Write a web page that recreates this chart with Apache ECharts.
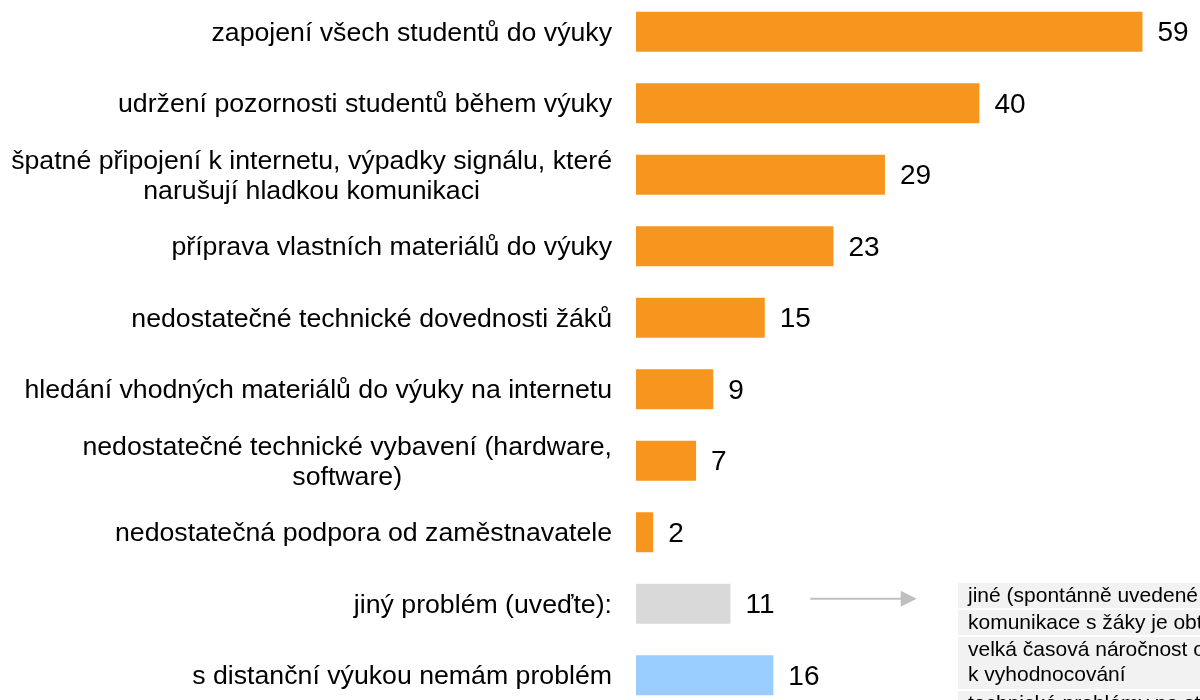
<!DOCTYPE html>
<html>
<head>
<meta charset="utf-8">
<script src="https://cdn.jsdelivr.net/npm/echarts@6/dist/echarts.min.js"></script>
<style>
html,body{margin:0;padding:0;background:#fff;}
#c{width:1200px;height:700px;}
</style>
</head>
<body>
<div id="c"></div>
<script>
const categories = [
  'zapojení všech studentů do výuky',
  'udržení pozornosti studentů během výuky',
  'špatné připojení k internetu, výpadky signálu, které\nnarušují hladkou komunikaci',
  'příprava vlastních materiálů do výuky',
  'nedostatečné technické dovednosti žáků',
  'hledání vhodných materiálů do výuky na internetu',
  'nedostatečné technické vybavení (hardware,\nsoftware)',
  'nedostatečná podpora od zaměstnavatele',
  'jiný problém (uveďte):',
  's distanční výukou nemám problém'
];
const values = [59, 40, 29, 23, 15, 9, 7, 2, 11, 16];
const barColors = ['#F7961E','#F7961E','#F7961E','#F7961E','#F7961E','#F7961E','#F7961E','#F7961E','#D9D9D9','#99CCFF'];
const arrowRange = [20.3, 32.7];
const noteRows = [
  'jiné (spontánně uvedené odpovědi)',
  'komunikace s žáky je obtížná',
  'velká časová náročnost oprav prací\nk vyhodnocování',
  'technické problémy na straně žáků'
];

const FONT = '"Liberation Sans", Arial, sans-serif';
const chart = echarts.init(document.getElementById('c'), null, {renderer:'canvas'});

const rowHeights = [25, 25, 52, 30];
let yy = 583;
const noteGraphics = [];
noteRows.forEach((t, i) => {
  noteGraphics.push({
    type: 'rect', left: 958, top: yy,
    shape: {x:0, y:0, width: 260, height: rowHeights[i]},
    style: {fill: '#F2F2F2'}, silent: true
  });
  noteGraphics.push({
    type: 'text', x: 968, y: yy + 1,
    style: {text: t, font: '21px ' + FONT, fill: '#000', lineHeight: 25, textVerticalAlign: 'top'},
    silent: true
  });
  yy += rowHeights[i] + 2;
});

chart.setOption({
  animation: false,
  grid: {left: 636, right: 6, top: -4, height: 715, containLabel: false, outerBoundsMode: 'none'},
  xAxis: {
    type: 'value', min: 0, max: 65, show: false
  },
  yAxis: {
    type: 'category', data: categories, inverse: true,
    axisLine: {show: false}, axisTick: {show: false}, splitLine: {show: false},
    axisLabel: {
      margin: 24, color: '#000', fontSize: 26.7, fontFamily: FONT, align: 'right',
      lineHeight: 30, padding: [3, 0, 0, 0],
      formatter: function (v) {
        return v.split('\n').map(l => '{c|' + l + '}').join('\n');
      },
      rich: {c: {align: 'center', fontSize: 26.7, fontFamily: FONT, color: '#000', lineHeight: 30}}
    }
  },
  series: [{
    type: 'bar',
    data: values.map((v, i) => ({value: v, itemStyle: {color: barColors[i]}})),
    barWidth: 40,
    label: {show: true, position: 'right', distance: 15, color: '#000', fontSize: 28, fontFamily: FONT, offset: [0, 2]}
  }],
  graphic: noteGraphics
});

// arrow pointing from "jiný problém" bar to the note table
const p0 = chart.convertToPixel({xAxisIndex: 0, yAxisIndex: 0}, [arrowRange[0], 8]);
const p1 = chart.convertToPixel({xAxisIndex: 0, yAxisIndex: 0}, [arrowRange[1], 8]);
const ay = p0[1] - 5;
chart.setOption({
  graphic: noteGraphics.concat([
    {type: 'line', silent: true, shape: {x1: p0[0], y1: ay, x2: p1[0] - 15, y2: ay},
     style: {stroke: '#BFBFBF', lineWidth: 2}},
    {type: 'polygon', silent: true,
     shape: {points: [[p1[0] - 16, ay - 8], [p1[0], ay], [p1[0] - 16, ay + 8]]},
     style: {fill: '#BFBFBF'}}
  ])
}, {replaceMerge: ['graphic']});
</script>
</body>
</html>
